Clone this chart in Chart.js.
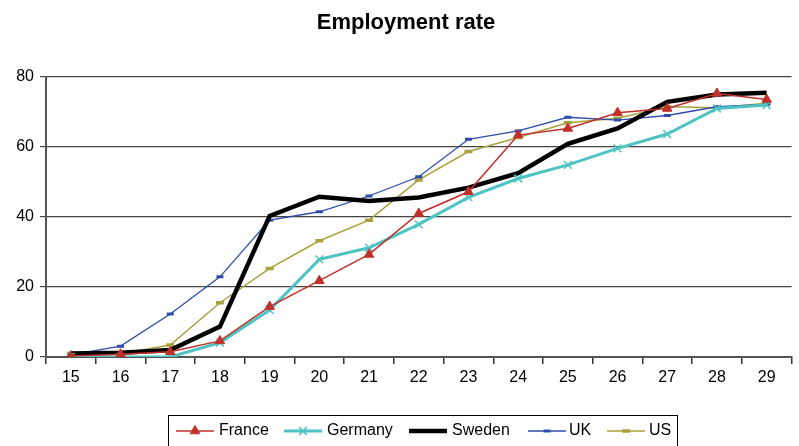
<!DOCTYPE html>
<html><head><meta charset="utf-8">
<script src="https://cdn.jsdelivr.net/npm/chart.js@4/dist/chart.umd.min.js"></script>
<style>html,body{margin:0;padding:0;background:#fff}#wrap{width:799px;height:446px;position:relative}</style>
</head><body><div id="wrap"><canvas id="c" width="799" height="446"></canvas></div>
<script>
const titleText = "Employment rate";
const ages = ["15","16","17","18","19","20","21","22","23","24","25","26","27","28","29"];
const france  = [0.3, 0.8, 1.5, 4.6, 14.4, 21.8, 29.3, 41.0, 47.2, 63.4, 65.3, 69.8, 71.0, 75.3, 73.6];
const germany = [0, 0, 0, 4.1, 13.4, 27.9, 31.2, 37.9, 45.6, 51.0, 54.9, 59.6, 63.7, 71.0, 72.0];
const sweden  = [1.0, 1.2, 2.0, 8.7, 40.3, 45.8, 44.6, 45.6, 48.4, 52.5, 60.9, 65.3, 72.9, 75.0, 75.5];
const uk      = [0.6, 3.1, 12.3, 22.9, 39.1, 41.5, 46.0, 51.5, 62.2, 64.6, 68.5, 67.7, 69.0, 71.5, 72.2];
const us      = [1.0, 0.9, 3.4, 15.5, 25.3, 33.2, 39.1, 50.6, 58.7, 62.7, 66.9, 68.2, 71.5, 71.2, 72.5];
const yTicks = [0, 20, 40, 60, 80];

const FONT = "'Liberation Sans', Arial, sans-serif";

const series = [
  {label:"France", data:france, borderColor:"#C0302A", borderWidth:1.5, pointStyle:"triangle", pointRadius:5.5, pointBorderWidth:1, pointBackgroundColor:"#C0302A", order:1},
  {label:"Germany", data:germany, borderColor:"#4EC3C3", borderWidth:3, pointStyle:"crossRot", pointRadius:5.5, pointBorderWidth:1.5, pointBackgroundColor:"#4EC3C3", order:2},
  {label:"Sweden", data:sweden, borderColor:"#000000", borderWidth:4.5, pointRadius:0, pointStyle:false, order:3},
  {label:"UK", data:uk, borderColor:"#2E4DA8", borderWidth:1.3, pointStyle:"line", pointRadius:3.5, pointBorderWidth:3, pointBackgroundColor:"#2E4DA8", order:4},
  {label:"US", data:us, borderColor:"#A8A23C", borderWidth:1.5, pointStyle:"line", pointRadius:4, pointBorderWidth:3.5, pointBackgroundColor:"#A8A23C", order:5}
];

const extras = {
  id: "extras",
  afterDraw(chart) {
    const ctx = chart.ctx;
    ctx.save();
    // title
    ctx.fillStyle = "#000";
    ctx.font = "bold 22px " + FONT;
    ctx.textAlign = "center";
    ctx.textBaseline = "alphabetic";
    ctx.fillText(titleText, 406, 29);
    // legend box
    ctx.strokeStyle = "#000";
    ctx.lineWidth = 1;
    ctx.strokeRect(168.5, 415.5, 509, 40);
    const items = [
      {x:176, tx:219},
      {x:284, tx:327},
      {x:409, tx:452},
      {x:528, tx:569},
      {x:607, tx:649}
    ];
    const ly = 431;
    items.forEach((it, i) => {
      const ds = series[i];
      ctx.strokeStyle = ds.borderColor;
      ctx.lineWidth = ds.borderWidth;
      ctx.beginPath();
      ctx.moveTo(it.x, ly);
      ctx.lineTo(it.x + 38, ly);
      ctx.stroke();
      const cx = it.x + 19;
      if (ds.pointStyle && ds.pointRadius > 0) {
        ctx.fillStyle = ds.pointBackgroundColor;
        ctx.strokeStyle = ds.borderColor;
        ctx.lineWidth = ds.pointBorderWidth;
        Chart.helpers.drawPoint(ctx, {pointStyle: ds.pointStyle, radius: ds.pointRadius, rotation:0, borderWidth: ds.pointBorderWidth}, cx, ly);
      }
      ctx.fillStyle = "#000";
      ctx.font = "16px " + FONT;
      ctx.textAlign = "left";
      ctx.textBaseline = "middle";
      ctx.fillText(ds.label, it.tx, ly);
    });
    ctx.restore();
  }
};

new Chart(document.getElementById("c"), {
  type: "line",
  data: {
    labels: ages,
    datasets: series.map(s => Object.assign({fill:false, tension:0, pointBorderColor:s.borderColor}, s))
  },
  options: {
    responsive: false,
    animation: false,
    layout: {padding: {top: 77, right: 2, bottom: 56, left: 0}},
    plugins: {legend: {display:false}, title: {display:false}, tooltip: {enabled:false}},
    scales: {
      x: {
        offset: true,
        grid: {offset: true, drawOnChartArea: false, drawTicks: true, tickLength: 7, color: "#333", lineWidth: 1.5},
        border: {display: true, color: "#555", width: 2},
        ticks: {color: "#000", font: {family: FONT, size: 16}, padding: 4, maxRotation: 0, autoSkip: false},
        afterFit(scale) { scale.height = 33; }
      },
      y: {
        min: 0, max: 80,
        afterBuildTicks(scale) { scale.ticks = yTicks.map(v => ({value: v})); },
        grid: {color: "#444", lineWidth: 1.2, drawTicks: true, tickLength: 6},
        border: {display: true, color: "#555", width: 2},
        ticks: {color: "#000", font: {family: FONT, size: 16}, padding: 6},
        afterFit(scale) { scale.width = 46; }
      }
    }
  },
  plugins: [extras]
});
</script>
</body></html>
